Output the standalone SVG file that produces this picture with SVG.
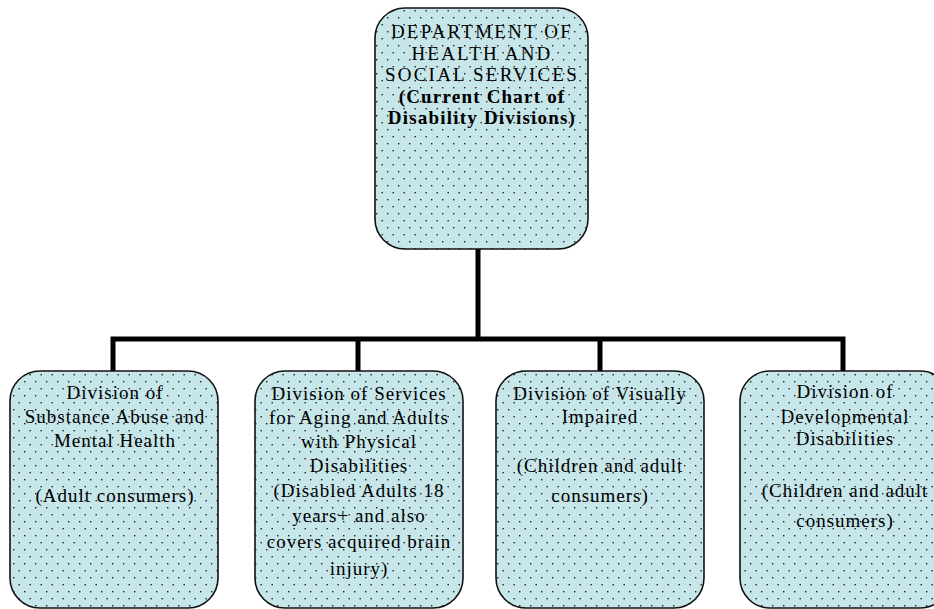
<svg xmlns="http://www.w3.org/2000/svg" width="934" height="609" viewBox="0 0 934 609">
<defs>
<pattern id="dots" x="0" y="0" width="11" height="14" patternUnits="userSpaceOnUse">
<rect width="11" height="14" fill="#c6e6ea"/>
<rect x="2" y="3" width="1.4" height="1.4" fill="#222"/>
<rect x="7.5" y="10" width="1.4" height="1.4" fill="#222"/>
</pattern>
</defs>
<style>
.box{fill:url(#dots);stroke:#111;stroke-width:1.6}
.t{font-family:"Liberation Serif","Times New Roman",serif;font-size:19px;fill:#000;text-anchor:middle;letter-spacing:1px}
.caps{letter-spacing:2.2px}
.b{font-weight:bold;letter-spacing:1.2px}
.conn{stroke:#000;stroke-width:5;fill:none;stroke-linecap:square}
</style>
<rect width="934" height="609" fill="#fff"/>
<g id="connectors">
<path class="conn" d="M478 250 V339 M113 339 H843 M113 339 V370 M358 339 V370 M600 339 V370 M843 339 V370"/>
</g>
<g id="dhss">
<rect class="box" x="375" y="8" width="213" height="241" rx="30" ry="30"/>
<text class="t caps" x="482" y="38">DEPARTMENT OF</text>
<text class="t caps" x="482" y="60">HEALTH AND</text>
<text class="t caps" x="482" y="81">SOCIAL SERVICES</text>
<text class="t b" x="482" y="103">(Current Chart of</text>
<text class="t b" x="482" y="124">Disability Divisions)</text>
</g>
<g id="sa-mh">
<rect class="box" x="10" y="371" width="208" height="237" rx="30" ry="30"/>
<text class="t" x="115" y="399">Division of</text>
<text class="t" x="115" y="423">Substance Abuse and</text>
<text class="t" x="115" y="447">Mental Health</text>
<text class="t" x="115" y="502">(Adult consumers)</text>
</g>
<g id="aging">
<rect class="box" x="255" y="371" width="208" height="237" rx="30" ry="30"/>
<text class="t" x="359" y="400">Division of Services</text>
<text class="t" x="359" y="424">for Aging and Adults</text>
<text class="t" x="359" y="448">with Physical</text>
<text class="t" x="359" y="472">Disabilities</text>
<text class="t" x="359" y="497">(Disabled Adults 18</text>
<text class="t" x="359" y="522">years+ and also</text>
<text class="t" x="359" y="548">covers acquired brain</text>
<text class="t" x="359" y="575">injury)</text>
</g>
<g id="visual">
<rect class="box" x="496" y="371" width="208" height="237" rx="30" ry="30"/>
<text class="t" x="600" y="400">Division of Visually</text>
<text class="t" x="600" y="423">Impaired</text>
<text class="t" x="600" y="472">(Children and adult</text>
<text class="t" x="600" y="502">consumers)</text>
</g>
<g id="developmental">
<rect class="box" x="740" y="371" width="210" height="237" rx="30" ry="30"/>
<text class="t" x="845" y="398">Division of</text>
<text class="t" x="845" y="423">Developmental</text>
<text class="t" x="845" y="445">Disabilities</text>
<text class="t" x="845" y="497">(Children and adult</text>
<text class="t" x="845" y="527">consumers)</text>
</g>
</svg>
